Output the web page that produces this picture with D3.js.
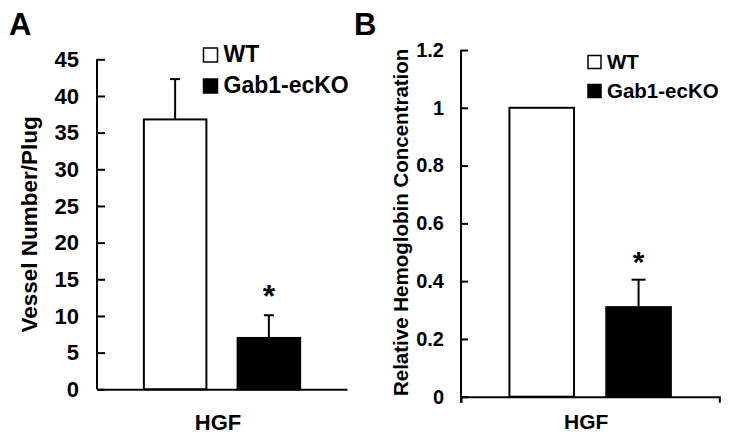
<!DOCTYPE html>
<html>
<head>
<meta charset="utf-8">
<script src="https://cdn.jsdelivr.net/npm/d3@7"></script>
<style>
  body { margin: 0; background: #fff; }
  text { font-family: "Liberation Sans", Arial, sans-serif; font-weight: bold; fill: #000; }
</style>
</head>
<body>
<div class="chart"></div>
<script>
// Data
let groups = ["WT", "Gab1-ecKO"];
let category = "HGF";

let vesselMean = [36.8, 7.0];
let vesselErr = [5.5, 3.1];
let vesselTicks = [0, 5, 10, 15, 20, 25, 30, 35, 40, 45];

let hemoMean = [1.0, 0.31];
let hemoErr = [0, 0.095];
let hemoTicks = [0, 0.2, 0.4, 0.6, 0.8, 1, 1.2];

let fills = ["#fff", "#000"];

let svg = d3.select(".chart")
  .append("svg")
  .attr("width", 729)
  .attr("height", 438);

// Draws one bar panel
function drawPanel(p) {
  let g = svg.append("g");

  let x = d3.scaleBand()
    .domain(groups)
    .range([p.left, p.right])
    .paddingInner(0.333)
    .paddingOuter(0.5);

  let y = d3.scaleLinear()
    .domain([0, p.max])
    .range([p.bottom, p.top]);

  // bars
  g.selectAll("rect.bar")
    .data(groups)
    .enter().append("rect")
    .attr("class", "bar")
    .attr("x", d => x(d))
    .attr("width", x.bandwidth())
    .attr("y", (d, i) => y(p.mean[i]))
    .attr("height", (d, i) => y(0) - y(p.mean[i]))
    .attr("fill", (d, i) => fills[i])
    .attr("stroke", "#000")
    .attr("stroke-width", 2);

  // upper error bars
  groups.forEach(function(d, i) {
    if (!p.err[i]) return;
    let cx = x(d) + x.bandwidth() / 2;
    let top = y(p.mean[i] + p.err[i]);
    g.append("line")
      .attr("x1", cx).attr("x2", cx)
      .attr("y1", y(p.mean[i])).attr("y2", top)
      .attr("stroke", "#000").attr("stroke-width", 2);
    g.append("line")
      .attr("x1", cx - p.cap).attr("x2", cx + p.cap)
      .attr("y1", top).attr("y2", top)
      .attr("stroke", "#000").attr("stroke-width", 2);
    // significance mark over the knockout bar
    if (i == 1) {
      g.append("text")
        .attr("x", cx)
        .attr("y", top - p.starGap)
        .attr("text-anchor", "middle")
        .style("font-size", p.starSize + "px")
        .text("*");
    }
  });

  // y axis, ticks pointing inward
  let yAxis = d3.axisLeft(y)
    .tickValues(p.ticks)
    .tickFormat(d => String(d))
    .tickSize(-p.tick)
    .tickSizeOuter(0)
    .tickPadding(p.pad);

  let ya = g.append("g")
    .attr("transform", `translate(${p.left}, 0)`)
    .call(yAxis);
  ya.selectAll("text").style("font-size", p.font + "px");
  ya.selectAll("line, path").attr("stroke", "#000").attr("stroke-width", 2);
  ya.select(".domain").attr("d", `M0,${p.top}V${p.bottom + p.endTick}`);

  // x axis
  let xa = g.append("g")
    .attr("transform", `translate(0, ${p.bottom})`)
    .call(d3.axisBottom(x).tickValues([]).tickSizeOuter(p.endTick));
  xa.select(".domain").attr("stroke", "#000").attr("stroke-width", 2);

  g.append("text")
    .attr("x", (p.left + p.right) / 2 - 4)
    .attr("y", p.catY)
    .attr("text-anchor", "middle")
    .style("font-size", p.catFont + "px")
    .text(category);

  // y title
  g.append("text")
    .attr("transform", `translate(${p.titleX}, ${(p.top + p.bottom) / 2 + p.titleShift}) rotate(-90)`)
    .attr("text-anchor", "middle")
    .style("font-size", p.titleSize + "px")
    .text(p.title);

  // panel letter
  g.append("text")
    .attr("x", p.letterX)
    .attr("y", 35)
    .style("font-size", "31px")
    .text(p.letter);

  // legend
  groups.forEach(function(d, i) {
    let ly = p.legY + i * p.legStep;
    g.append("rect")
      .attr("x", p.legX)
      .attr("y", ly - p.box)
      .attr("width", p.box)
      .attr("height", p.box)
      .attr("fill", fills[i])
      .attr("stroke", "#000")
      .attr("stroke-width", 1.5);
    g.append("text")
      .attr("x", p.legX + p.box + 6)
      .attr("y", ly)
      .style("font-size", p.legFont + "px")
      .text(d);
  });
}

drawPanel({
  letter: "A", letterX: 9,
  left: 97, right: 347, top: 59.3, bottom: 389.3, max: 45,
  mean: vesselMean, err: vesselErr, ticks: vesselTicks,
  tick: 8, pad: 18, font: 22, endTick: 0, cap: 5,
  starSize: 32, starGap: 8, catY: 430, catFont: 22,
  title: "Vessel Number/Plug", titleX: 37, titleSize: 22.5, titleShift: 0,
  legX: 203.5, legY: 62, legStep: 31, box: 14, legFont: 23
});

drawPanel({
  letter: "B", letterX: 354,
  left: 461, right: 719.3, top: 50, bottom: 396.7, max: 1.2,
  mean: hemoMean, err: hemoErr, ticks: hemoTicks,
  tick: 7, pad: 17, font: 20, endTick: 6, cap: 7,
  starSize: 30, starGap: 8, catY: 428.5, catFont: 21,
  title: "Relative Hemoglobin Concentration", titleX: 407.5, titleSize: 20.5, titleShift: -1,
  legX: 588, legY: 68.5, legStep: 29, box: 13, legFont: 20.5
});
</script>
</body>
</html>
